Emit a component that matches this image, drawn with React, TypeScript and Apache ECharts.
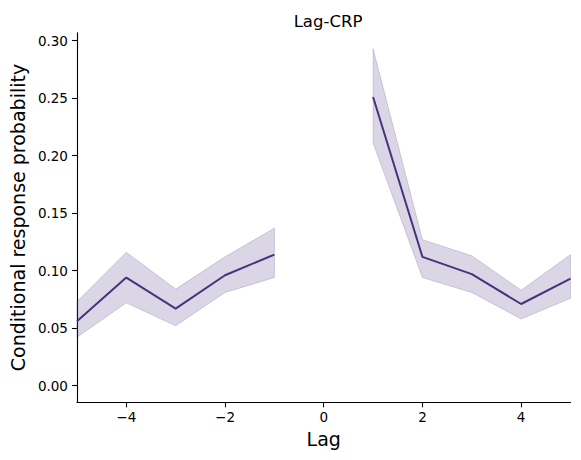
import React, { useEffect, useRef } from "react";
import * as echarts from "echarts";

// Lag-CRP: mean conditional response probability per lag with its confidence band
const lags = [-5, -4, -3, -2, -1, 0, 1, 2, 3, 4, 5];
const crpMean = [0.056, 0.094, 0.067, 0.096, 0.114, null, 0.251, 0.112, 0.097, 0.071, 0.093];
const crpUpper = [0.073, 0.116, 0.084, 0.112, 0.137, null, 0.293, 0.127, 0.113, 0.083, 0.114];
const crpLower = [0.042, 0.072, 0.052, 0.081, 0.094, null, 0.211, 0.094, 0.081, 0.058, 0.076];
const xTicks = [-4, -2, 0, 2, 4];
const yTicks = [0, 0.05, 0.1, 0.15, 0.2, 0.25, 0.3];

const LINE = "#46337e";
const FONT = "DejaVu Sans";

// split the lag range into contiguous runs (lag 0 is undefined)
function segmentsOf(): number[][] {
  const out: number[][] = [];
  let cur: number[] = [];
  lags.forEach((_, i) => {
    if (crpMean[i] == null) {
      if (cur.length) out.push(cur);
      cur = [];
    } else cur.push(i);
  });
  if (cur.length) out.push(cur);
  return out;
}

export default function App() {
  const ref = useRef<HTMLDivElement>(null);

  useEffect(() => {
    if (!ref.current) return;
    const chart = echarts.init(ref.current, null, { renderer: "svg" });
    const segments = segmentsOf();
    const minus = (v: number) => String(v).replace("-", "\u2212");

    chart.setOption({
      animation: false,
      backgroundColor: "#ffffff",
      textStyle: { fontFamily: FONT },
      title: {
        text: "Lag-CRP",
        left: 323,
        top: 8,
        textAlign: "center",
        textStyle: { fontFamily: FONT, fontSize: 16.5, fontWeight: "normal", color: "#000" },
      },
      grid: { left: 75.5, right: 10.5, top: 32.7, bottom: 57.7, containLabel: false },
      xAxis: {
        type: "value",
        min: -5,
        max: 5,
        name: "Lag",
        nameLocation: "middle",
        nameGap: 27,
        nameTextStyle: { fontFamily: FONT, fontSize: 19, color: "#000" },
        splitLine: { show: false },
        axisLine: { show: true, onZero: false, lineStyle: { color: "#000", width: 1.1 } },
        axisTick: { show: true, inside: false, length: 5, customValues: xTicks, lineStyle: { color: "#000", width: 1.1 } },
        axisLabel: {
          customValues: xTicks,
          margin: 8,
          fontFamily: FONT,
          fontSize: 13.5,
          color: "#000",
          formatter: (v: number) => minus(v),
        },
      },
      yAxis: {
        type: "value",
        min: -0.0145,
        max: 0.307,
        name: "Conditional response probability",
        nameLocation: "middle",
        nameGap: 42,
        nameRotate: 90,
        nameTextStyle: { fontFamily: FONT, fontSize: 19, color: "#000" },
        splitLine: { show: false },
        axisLine: { show: true, onZero: false, lineStyle: { color: "#000", width: 1.1 } },
        axisTick: { show: true, inside: false, length: 5, customValues: yTicks, lineStyle: { color: "#000", width: 1.1 } },
        axisLabel: {
          customValues: yTicks,
          margin: 9,
          fontFamily: FONT,
          fontSize: 13.5,
          color: "#000",
          formatter: (v: number) => v.toFixed(2),
        },
      },
      series: [
        {
          type: "custom",
          name: "band",
          clip: true,
          data: segments.map((s) => [lags[s[0]], crpMean[s[0]]]),
          renderItem: (params: any, api: any) => {
            const seg = segments[params.dataIndex];
            const top = seg.map((i) => api.coord([lags[i], crpUpper[i]]));
            const bottom = seg
              .slice()
              .reverse()
              .map((i) => api.coord([lags[i], crpLower[i]]));
            return {
              type: "polygon",
              shape: { points: top.concat(bottom) },
              style: {
                fill: "rgba(70,51,126,0.2)",
                stroke: "rgba(70,51,126,0.2)",
                lineWidth: 1,
              },
            };
          },
          z: 1,
        },
        {
          type: "line",
          name: "mean",
          data: lags.map((l, i) => [l, crpMean[i]]),
          showSymbol: false,
          symbol: "none",
          connectNulls: false,
          lineStyle: { color: LINE, width: 2 },
          itemStyle: { color: LINE },
          z: 2,
        },
      ],
    });

    return () => chart.dispose();
  }, []);

  return (
    <div
      ref={ref}
      style={{ position: "fixed", left: 0, top: 0, width: 581, height: 460 }}
    />
  );
}
